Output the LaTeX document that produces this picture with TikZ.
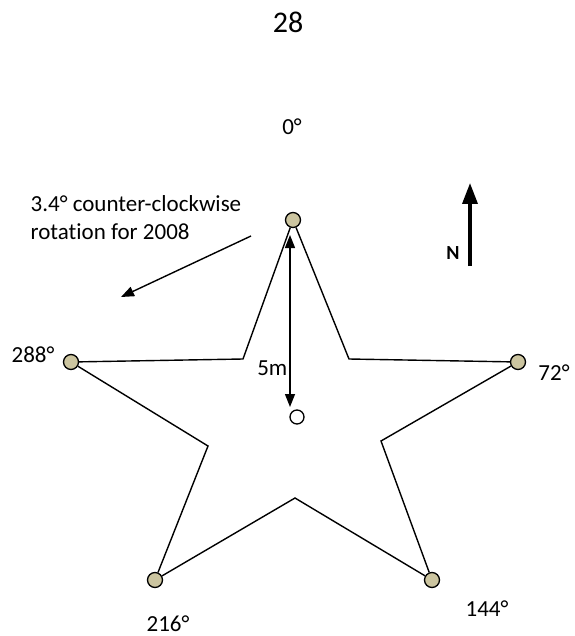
\documentclass[tikz,border=0pt]{standalone}
\usepackage{fontspec}
\setmainfont{Carlito}[Ligatures=NoCommon]
\usetikzlibrary{arrows.meta,positioning}
\definecolor{tipfill}{RGB}{204,197,160}
\tikzset{every picture/.style={line width=1.4pt}}
\tikzset{
  tipdot/.style={circle, draw, fill=tipfill, inner sep=0pt, minimum size=15pt, line width=1.3pt},
  lbl/.style={font=\fontsize{23}{28}\selectfont, inner sep=0pt}
}

\begin{document}
\begin{tikzpicture}[x=1pt, y=-1pt, >={Triangle[length=13pt,width=10pt]}]
    \useasboundingbox (0,0) rectangle (574,636);

    % page number
    \node[font=\fontsize{30}{34}\selectfont] (page) at (288,22) {28};

    % star tips
    \node[tipdot] (t0) at (293,220) {};
    \node[tipdot] (t72) at (518,362) {};
    \node[tipdot] (t144) at (432,580) {};
    \node[tipdot] (t216) at (155,580) {};
    \node[tipdot] (t288) at (71,362) {};

    % inner corners
    \coordinate (i1) at (243,359);
    \coordinate (i2) at (208,446);
    \coordinate (i3) at (295,498);
    \coordinate (i4) at (381,441);
    \coordinate (i5) at (349,359);

    % star outline
    \draw (t0) -- (i1) -- (t288) -- (i2) -- (t216) -- (i3) -- (t144) -- (i4) -- (t72) -- (i5) -- (t0);

    % centre
    \node[circle, draw, fill=white, inner sep=0pt, minimum size=14pt, line width=1.3pt] (c) at (297,417) {};

    % angle labels
    \node[lbl] (l0) at (292,127) {0°};
    \node[lbl] (l72) at (554,373) {72°};
    \node[lbl] (l144) at (487,609) {144°};
    \node[lbl] (l216) at (168,624) {216°};
    \node[lbl] (l288) at (33,355) {288°};

    % radius
    \coordinate (r1) at (290,235);
    \coordinate (r2) at (290,407);
    \draw[<->] (r1) -- (r2);
    \node[lbl, left=2pt of r2, yshift=39pt] (rlen) {5m};

    % rotation note
    \node[lbl, anchor=west] (rot1) at (30,204) {3.4° counter-clockwise};
    \node[lbl, anchor=west] (rot2) at (30,232) {rotation for 2008};
    \coordinate (w1) at (251,236);
    \coordinate (w2) at (121,297);
    \draw[->] (w1) -- (w2);

    % north
    \coordinate (n1) at (470,266);
    \coordinate (n2) at (470,183);
    \draw[-{Triangle[length=21pt,width=15pt]}, line width=3.5pt] (n1) -- (n2);
    \node[font=\fontsize{20}{24}\selectfont\bfseries] (north) at (453,253) {N};
\end{tikzpicture}
\end{document}
